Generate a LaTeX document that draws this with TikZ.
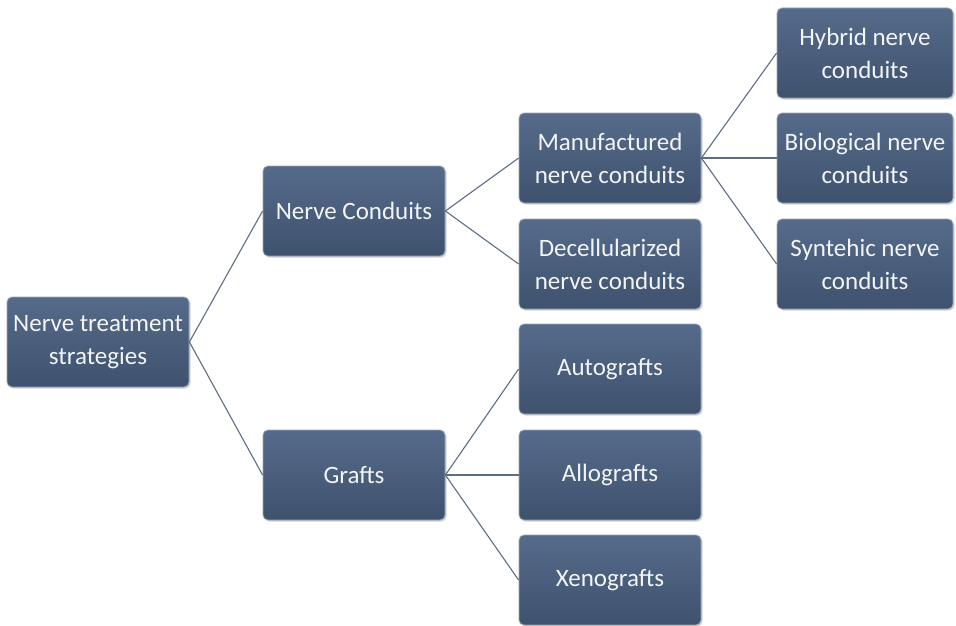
\documentclass[tikz,border=0pt]{standalone}
\usepackage{fontspec}
\setmainfont{Carlito}
\usetikzlibrary{shadows}
\definecolor{boxtop}{HTML}{566B8A}
\definecolor{boxbot}{HTML}{3E526E}
\definecolor{boxedge}{HTML}{9AA6B6}
\definecolor{linkc}{HTML}{5E6D82}
\definecolor{txt}{HTML}{F2F4F7}
\tikzset{
  box/.style={rectangle, rounded corners=5pt, minimum width=182pt, minimum height=90pt,
    top color=boxtop, bottom color=boxbot, draw=boxedge, line width=0.8pt,
    text=txt, font=\fontsize{25}{33}\selectfont, align=center, inner sep=2pt,
    drop shadow={shadow xshift=1.5pt, shadow yshift=-1.5pt, fill=black!35, opacity=0.5}},
  link/.style={draw=linkc, line width=1.1pt}
}
\begin{document}
\begin{tikzpicture}[x=1pt,y=1pt]
\useasboundingbox (0,0) rectangle (956,-626);
\node[box] (root) at (98,-342) {Nerve treatment\\strategies};
\node[box] (nc) at (354,-211) {Nerve Conduits};
\node[box] (gr) at (354,-475) {Grafts};
\node[box] (man) at (610,-158) {Manufactured\\nerve conduits};
\node[box] (dec) at (610,-264) {Decellularized\\nerve conduits};
\node[box] (aut) at (610,-369) {Autografts};
\node[box] (all) at (610,-475) {Allografts};
\node[box] (xen) at (610,-580) {Xenografts};
\node[box, minimum width=176pt] (hyb) at (865,-53) {Hybrid nerve\\conduits};
\node[box, minimum width=176pt] (bio) at (865,-158) {Biological nerve\\conduits};
\node[box, minimum width=176pt] (syn) at (865,-264) {Syntehic nerve\\conduits};
\draw[link] (root.east) -- (nc.west);
\draw[link] (root.east) -- (gr.west);
\draw[link] (nc.east) -- (man.west);
\draw[link] (nc.east) -- (dec.west);
\draw[link] (gr.east) -- (aut.west);
\draw[link] (gr.east) -- (all.west);
\draw[link] (gr.east) -- (xen.west);
\draw[link] (man.east) -- (hyb.west);
\draw[link] (man.east) -- (bio.west);
\draw[link] (man.east) -- (syn.west);
\end{tikzpicture}
\end{document}
